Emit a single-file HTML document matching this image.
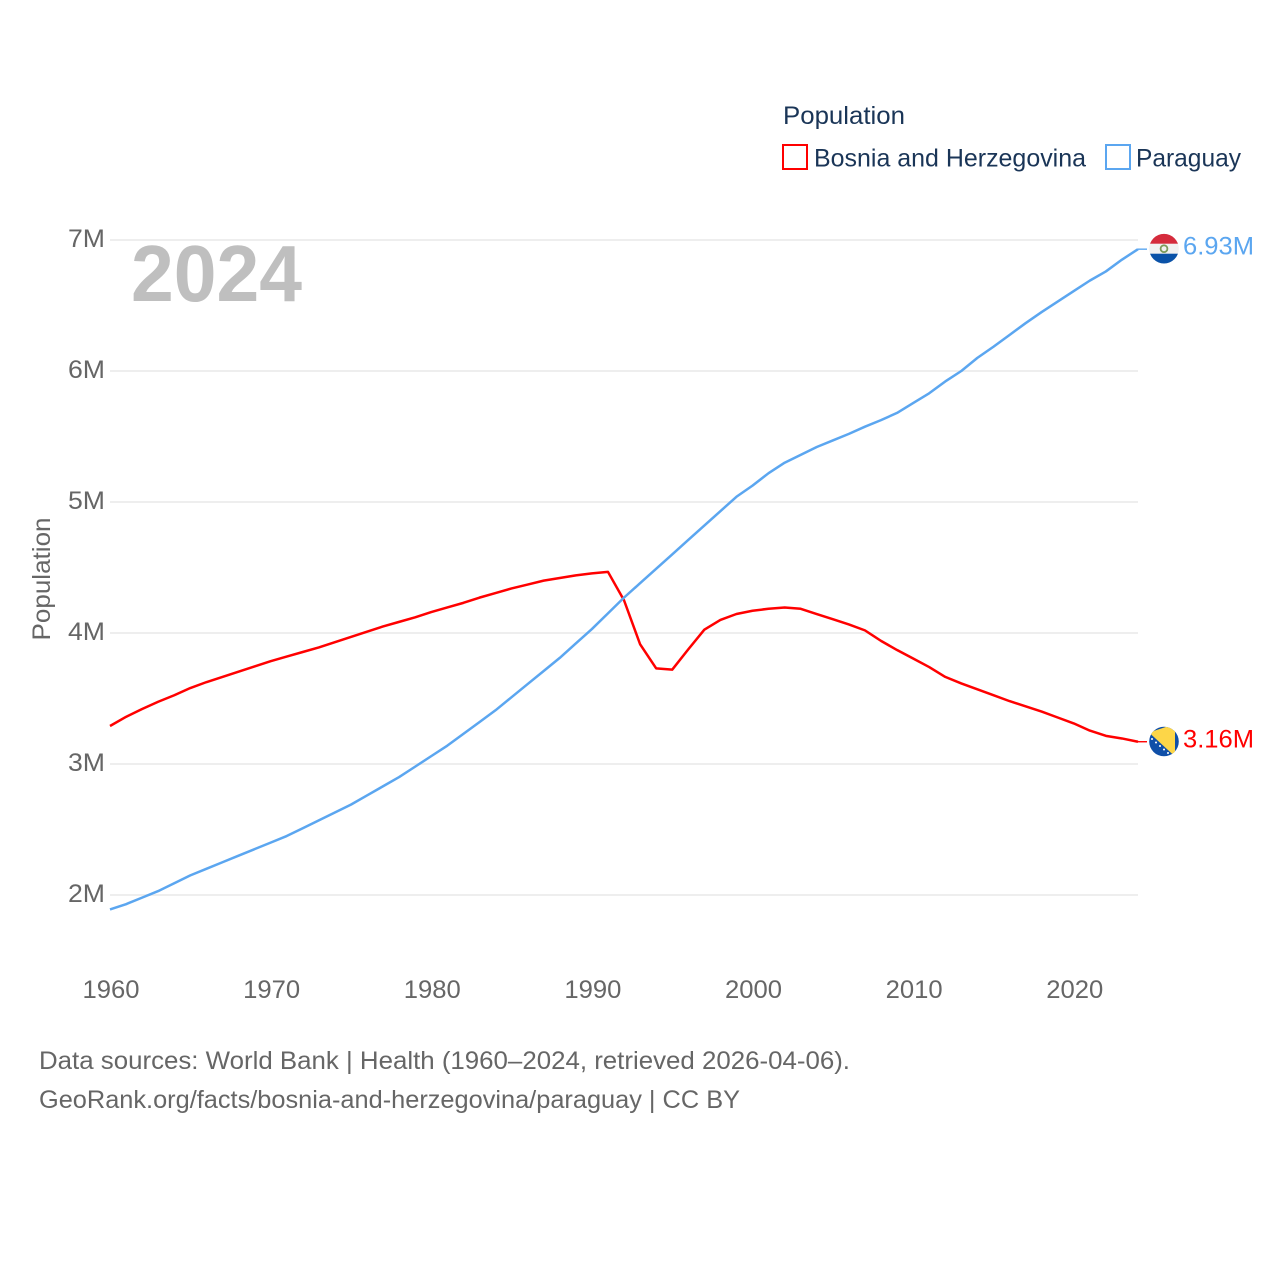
<!DOCTYPE html>
<html lang="en">
<head>
<meta charset="utf-8">
<title>Population: Bosnia and Herzegovina vs Paraguay</title>
<style>
html,body{margin:0;padding:0;background:#fff;}
svg{display:block;font-family:"Liberation Sans",sans-serif;}
</style>
</head>
<body>
<svg id="chart" width="1280" height="1280" viewBox="0 0 1280 1280" xmlns="http://www.w3.org/2000/svg">
  <defs>
    <clipPath id="clip-py"><circle id="clip-py-circle" cx="1164" cy="248.7" r="14.8"/></clipPath>
    <clipPath id="clip-ba"><circle id="clip-ba-circle" cx="1164" cy="741.5" r="14.8"/></clipPath>
  </defs>
  <rect width="1280" height="1280" fill="#fff"/>

  <g>
    <text x="783" y="124" font-size="25" fill="#1a3557" textLength="122" lengthAdjust="spacingAndGlyphs">Population</text>
    <g>
      <rect x="783" y="145" width="24" height="24" fill="#fff" stroke="#ff0000" stroke-width="2"/>
      <text x="814" y="166.5" font-size="25" fill="#1a3557" textLength="272" lengthAdjust="spacingAndGlyphs">Bosnia and Herzegovina</text>
    </g>
    <g>
      <rect x="1106" y="145" width="24" height="24" fill="#fff" stroke="#5ba6f0" stroke-width="2"/>
      <text x="1136" y="166.5" font-size="25" fill="#1a3557" textLength="105" lengthAdjust="spacingAndGlyphs">Paraguay</text>
    </g>
  </g>

  <g id="grid"></g>
  <g id="yticks"></g>
  <g id="xticks"></g>

  <text transform="translate(50,579) rotate(-90)" text-anchor="middle" font-size="25" fill="#666" textLength="123" lengthAdjust="spacingAndGlyphs">Population</text>
  <text x="131" y="301" font-size="80" font-weight="bold" fill="#bfbfbf" textLength="171" lengthAdjust="spacingAndGlyphs">2024</text>

  <g id="series"></g>

  <g id="flag-py" clip-path="url(#clip-py)">
    <rect id="py-bg" x="1149" y="233" width="30" height="32" fill="#f1f1f1"/>
    <rect id="py-red" x="1149" y="233" width="30" height="10.7" fill="#d52b3c"/>
    <rect id="py-blue" x="1149" y="253.7" width="30" height="11" fill="#0a52a8"/>
    <circle id="py-emblem" cx="1164" cy="248.7" r="3.4" fill="none" stroke="#7c9a5a" stroke-width="1.8"/>
  </g>
  <g id="flag-ba" clip-path="url(#clip-ba)">
    <rect id="ba-bg" x="1149" y="726" width="30" height="31" fill="#0f4fa8"/>
    <polygon id="ba-tri" points="1149,732.5 1175,724 1175,756.5" fill="#fdd648"/>
    <g id="ba-stars" fill="#fff">
      <circle cx="1152" cy="739" r="1"/><circle cx="1156" cy="742.5" r="1"/><circle cx="1160" cy="746" r="1"/><circle cx="1164" cy="749.5" r="1"/><circle cx="1168" cy="753" r="1"/>
    </g>
  </g>

  <text id="label-py" x="1183" y="254" font-size="25" fill="#5ba6f0" textLength="71" lengthAdjust="spacingAndGlyphs"></text>
  <text id="label-ba" x="1183" y="747" font-size="25" fill="#ff0000" textLength="71" lengthAdjust="spacingAndGlyphs"></text>

  <g>
    <text x="39" y="1069" font-size="25" fill="#666" textLength="811" lengthAdjust="spacingAndGlyphs">Data sources: World Bank | Health (1960–2024, retrieved 2026-04-06).</text>
    <text x="39" y="1108" font-size="25" fill="#666" textLength="701" lengthAdjust="spacingAndGlyphs">GeoRank.org/facts/bosnia-and-herzegovina/paraguay | CC BY</text>
  </g>
</svg>
<script>
const years = [1960,1961,1962,1963,1964,1965,1966,1967,1968,1969,1970,1971,1972,1973,1974,1975,1976,1977,1978,1979,1980,1981,1982,1983,1984,1985,1986,1987,1988,1989,1990,1991,1992,1993,1994,1995,1996,1997,1998,1999,2000,2001,2002,2003,2004,2005,2006,2007,2008,2009,2010,2011,2012,2013,2014,2015,2016,2017,2018,2019,2020,2021,2022,2023,2024];
const bosnia = [3.29,3.36,3.42,3.475,3.525,3.58,3.625,3.665,3.705,3.745,3.785,3.82,3.855,3.89,3.93,3.97,4.01,4.05,4.085,4.12,4.16,4.195,4.23,4.27,4.305,4.34,4.37,4.40,4.42,4.44,4.455,4.467,4.25,3.915,3.73,3.72,3.875,4.025,4.10,4.145,4.17,4.185,4.195,4.185,4.145,4.105,4.065,4.02,3.94,3.87,3.805,3.74,3.665,3.615,3.57,3.525,3.48,3.44,3.40,3.355,3.31,3.255,3.215,3.195,3.17];
const paraguay = [1.89,1.93,1.98,2.03,2.09,2.15,2.20,2.25,2.30,2.35,2.40,2.45,2.51,2.57,2.63,2.69,2.76,2.83,2.90,2.98,3.06,3.14,3.23,3.32,3.41,3.51,3.61,3.71,3.81,3.92,4.03,4.15,4.27,4.38,4.49,4.60,4.71,4.82,4.93,5.04,5.125,5.22,5.30,5.36,5.42,5.47,5.52,5.575,5.625,5.68,5.755,5.83,5.92,6.00,6.10,6.185,6.275,6.365,6.45,6.53,6.61,6.69,6.76,6.85,6.93];
const yTickValues = [2,3,4,5,6,7];
const yTickLabels = ["2M","3M","4M","5M","6M","7M"];
const xTickValues = [1960,1970,1980,1990,2000,2010,2020];
const xTickLabels = ["1960","1970","1980","1990","2000","2010","2020"];
const seriesNames = ["bosnia","paraguay"];
const endLabels = ["3.16M","6.93M"];

const NS = "http://www.w3.org/2000/svg";
function xScale(yr){ return 110 + (yr - 1960) * (1138 - 110) / 64; }
function yScale(v){ return 895 - (v - 2) * (895 - 240) / 5; }
function make(tag, attrs, parent){
  const el = document.createElementNS(NS, tag);
  for (const k in attrs) el.setAttribute(k, attrs[k]);
  parent.appendChild(el);
  return el;
}

const grid = document.getElementById("grid");
const yticks = document.getElementById("yticks");
yTickValues.forEach(function(v, i){
  const line = make("line", {x1:110, x2:1138, y1:yScale(v), y2:yScale(v), stroke:"#eeeeee", "stroke-width":2}, grid);
  
  
  const t = make("text", {x:105, y:yScale(v)+7, "text-anchor":"end", "font-size":25, fill:"#666", textLength:37, lengthAdjust:"spacingAndGlyphs"}, yticks);
  
  
  t.textContent = yTickLabels[i];
});

const xticks = document.getElementById("xticks");
xTickValues.forEach(function(v, i){
  const t = make("text", {x:xScale(v)+1, y:998, "text-anchor":"middle", "font-size":25, fill:"#666", textLength:57, lengthAdjust:"spacingAndGlyphs"}, xticks);
  
  
  t.textContent = xTickLabels[i];
});

function drawSeries(values, color, name){
  const g = document.getElementById("series");
  const pts = values.map(function(v, i){ return xScale(years[i]).toFixed(2) + "," + yScale(v).toFixed(2); });
  const last = yScale(values[values.length - 1]);
  const line = make("polyline", {points:pts.join(" "), fill:"none", stroke:color, "stroke-width":2.5, "stroke-linejoin":"round"}, g);
  
  
  const conn = make("line", {x1:xScale(years[years.length - 1]), x2:1147, y1:last, y2:last, stroke:color, "stroke-width":1.4}, g);
  
  
}
drawSeries(bosnia, "#ff0000", seriesNames[0]);
drawSeries(paraguay, "#5ba6f0", seriesNames[1]);

const pyLast = paraguay[paraguay.length - 1];
const baLast = bosnia[bosnia.length - 1];
document.getElementById("label-ba").textContent = endLabels[0];
document.getElementById("label-py").textContent = endLabels[1];
document.getElementById("label-py").setAttribute("y", yScale(pyLast) + 5.3);
document.getElementById("label-ba").setAttribute("y", yScale(baLast) + 5.7);
const pyOffset = yScale(pyLast) - yScale(6.93);
const baOffset = yScale(baLast) - yScale(3.17);
document.getElementById("flag-py").setAttribute("transform", "translate(0," + pyOffset + ")");
document.getElementById("flag-ba").setAttribute("transform", "translate(0," + baOffset + ")");
</script>
</body>
</html>
